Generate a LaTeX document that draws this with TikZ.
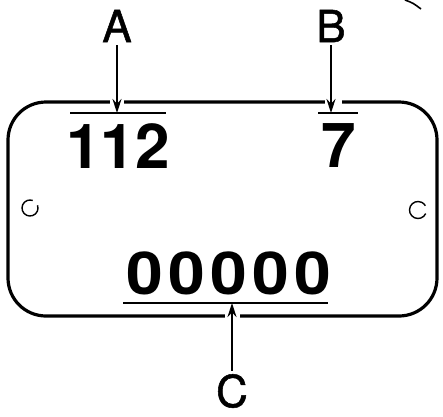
\documentclass[tikz,border=0pt]{standalone}
\usepackage{fontspec}
\setmainfont{TeX Gyre Heros}
\usetikzlibrary{arrows.meta}
\begin{document}
\begin{tikzpicture}[x=1pt,y=-1pt,
  lbl/.style={inner sep=0pt,font=\fontsize{44}{44}\selectfont\addfontfeature{FakeBold=1.2}},
  bignum/.style={inner sep=0pt,font=\fontsize{62}{62}\selectfont\bfseries},
  zeros/.style={inner sep=0pt,xscale=1.12,font=\fontsize{59}{59}\selectfont\bfseries\addfontfeature{LetterSpace=8}},
  ptr/.style={line width=1.4pt,-{Stealth[length=14pt,width=9pt]}},
  thinline/.style={line width=1.6pt},
  hole/.style={line width=1.4pt},
  plate/.style={line width=3.2pt,rounded corners=38pt}]
\useasboundingbox (0,0) rectangle (443,416);
% plate
\draw[plate] (8,102) rectangle (437,316);
% mounting holes
\draw[hole] (30,208) ++(-20:8) arc[start angle=-20,end angle=290,radius=8];
\draw[hole] (418,210) ++(25:8.5) arc[start angle=25,end angle=330,radius=8.5];
% top-right fragment
\draw[line width=1.6pt] (405,0) .. controls (413,3) .. (421,9);
% numbers
\node[bignum] (n112) at (118,146) {112};
\node[bignum] (n7) at (339,146) {7};
\node[zeros] (n0) at (229,273) {00000};
% lines under/over numbers
\draw[thinline] (70,113) -- (166,113);
\draw[thinline] (318,113) -- (358,113);
\draw[thinline] (123,303) -- (328,303);
% labels
\node[lbl] (A) at (117,26) {A};
\node[lbl] (B) at (331,26) {B};
\node[lbl] (C) at (232,391) {C};
\coordinate (ta) at (117,113);
\coordinate (tb) at (331,113);
\coordinate (tc) at (232,303);
\draw[white,line width=5pt] (110,102) -- (124,102);
\draw[white,line width=5pt] (325,102) -- (342,102);
\draw[white,line width=5pt] (225,316) -- (240,316);
\draw[ptr] (A.south) ++(0,3) -- (ta);
\draw[ptr] (B.south) ++(0,3) -- (tb);
\draw[ptr] (C.north) ++(0,-3) -- (tc);
\end{tikzpicture}
\end{document}
